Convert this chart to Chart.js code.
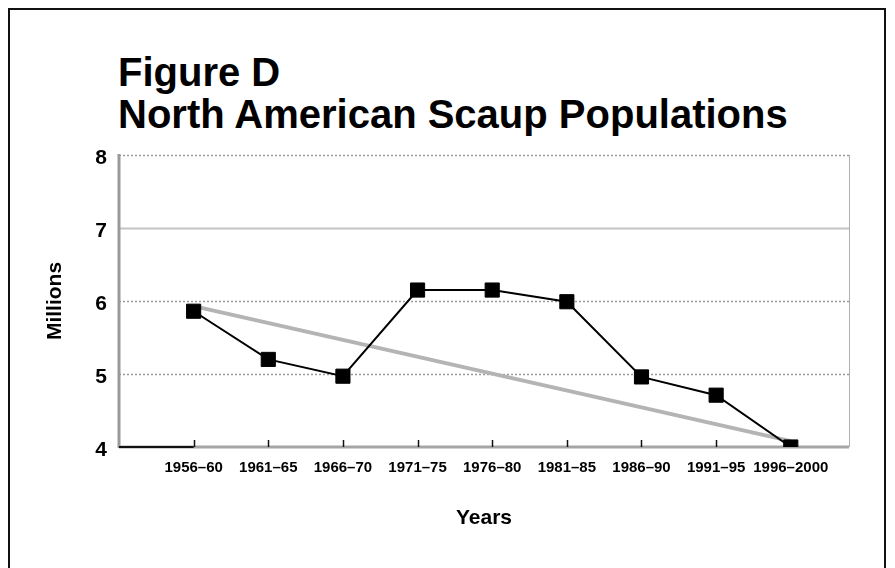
<!DOCTYPE html>
<html>
<head>
<meta charset="utf-8">
<script src="https://cdn.jsdelivr.net/npm/chart.js@4/dist/chart.umd.min.js"></script>
<style>
  html, body { margin: 0; padding: 0; background: #fff; }
  #wrap { position: relative; width: 895px; height: 568px; overflow: hidden; }
  #frame { position: absolute; left: 8px; top: 8px; width: 878px; height: 600px;
           border: 2px solid #111; box-sizing: border-box; }
  #title { position: absolute; left: 118px; top: 51px; font-family: "Liberation Sans", Arial, sans-serif;
           font-weight: bold; font-size: 40px; line-height: 42px; color: #000; }
  canvas { position: absolute; left: 0; top: 0; }
</style>
</head>
<body>
<div id="wrap">
  <div id="frame"></div>
  <div id="title">Figure D<br>North American Scaup Populations</div>
  <canvas id="c" width="895" height="568"></canvas>
</div>
<script>
const categories = ["1956–60", "1961–65", "1966–70", "1971–75", "1976–80", "1981–85", "1986–90", "1991–95", "1996–2000"];
const populationMillions = [5.86, 5.20, 4.97, 6.15, 6.15, 5.99, 4.96, 4.71, 4.00];
const trendStartEnd = [5.93, 4.08];
const yTicks = [4, 5, 6, 7, 8];

const FONT = '"Liberation Sans", Arial, sans-serif';
const NARROW = '"Liberation Sans Narrow", "Liberation Sans", Arial, sans-serif';

const mainPoints = populationMillions.map((v, i) => ({ x: i, y: v }));
const trendPoints = [{ x: 0, y: trendStartEnd[0] }, { x: categories.length - 1, y: trendStartEnd[1] }];

const framePlugin = {
  id: 'framePlugin',
  beforeDatasetsDraw(chart) {
    const { ctx, chartArea: a, scales: { x, y } } = chart;
    ctx.save();
    yTicks.forEach(v => {
      if (v === 4) return;
      const py = Math.round(y.getPixelForValue(v)) + 0.5;
      ctx.beginPath();
      if (v === 7) { ctx.setLineDash([]); ctx.strokeStyle = '#c4c4c4'; ctx.lineWidth = 2; }
      else { ctx.setLineDash([2, 2]); ctx.strokeStyle = '#9a9a9a'; ctx.lineWidth = 1.5; }
      ctx.moveTo(a.left, py); ctx.lineTo(a.right, py); ctx.stroke();
    });
    ctx.setLineDash([]);
    ctx.strokeStyle = '#b0b0b0'; ctx.lineWidth = 1;
    ctx.beginPath(); ctx.moveTo(a.right + 0.5, a.top); ctx.lineTo(a.right + 0.5, a.bottom); ctx.stroke();
    ctx.strokeStyle = '#9a9a9a'; ctx.lineWidth = 3;
    ctx.beginPath(); ctx.moveTo(a.left, a.top - 1); ctx.lineTo(a.left, a.bottom + 1); ctx.stroke();
    const by = y.getPixelForValue(4);
    ctx.strokeStyle = '#a6a6a6'; ctx.lineWidth = 3;
    ctx.beginPath(); ctx.moveTo(a.left, by); ctx.lineTo(a.right, by); ctx.stroke();
    ctx.strokeStyle = '#111'; ctx.lineWidth = 2;
    ctx.beginPath(); ctx.moveTo(a.left, by); ctx.lineTo(x.getPixelForValue(0), by); ctx.stroke();
    ctx.strokeStyle = '#111'; ctx.lineWidth = 1.5;
    categories.forEach((c, i) => {
      const px = Math.round(x.getPixelForValue(i)) + 0.5;
      ctx.beginPath(); ctx.moveTo(px, by); ctx.lineTo(px, by - 7); ctx.stroke();
    });
    ctx.restore();
  }
};

new Chart(document.getElementById('c'), {
  type: 'line',
  data: {
    datasets: [
      {
        label: 'Trend',
        data: trendPoints,
        borderColor: '#b4b4b4',
        borderWidth: 4,
        pointRadius: 0,
        order: 2
      },
      {
        label: 'Scaup population (millions)',
        data: mainPoints,
        borderColor: '#000',
        borderWidth: 2,
        pointStyle: 'rect',
        pointRadius: 10,
        pointBackgroundColor: '#000',
        pointBorderColor: '#000',
        pointBorderWidth: 1,
        order: 1
      }
    ]
  },
  options: {
    responsive: false,
    animation: false,
    events: [],
    layout: { padding: { top: 155, right: 46, left: 12, bottom: 0 } },
    plugins: { legend: { display: false }, title: { display: false }, tooltip: { enabled: false } },
    scales: {
      x: {
        type: 'linear',
        min: -1,
        max: 8.78,
        grid: { display: false, drawTicks: false },
        border: { display: false },
        afterBuildTicks: (s) => { s.ticks = categories.map((c, i) => ({ value: i })); },
        afterFit: (s) => { s.height = 568 - 447; },
        ticks: {
          autoSkip: false,
          maxRotation: 0,
          padding: 12,
          color: '#000',
          font: { family: NARROW, weight: 'bold', size: 15 },
          callback: (v) => categories[v] ?? ''
        },
        title: {
          display: true,
          text: 'Years',
          color: '#000',
          font: { family: FONT, weight: 'bold', size: 21 },
          padding: { top: 0, bottom: 37 }
        }
      },
      y: {
        min: 4,
        max: 8,
        grid: { display: false, drawTicks: false },
        border: { display: false },
        afterBuildTicks: (s) => { s.ticks = yTicks.map(v => ({ value: v })); },
        afterFit: (s) => { s.width = 119 - 12; },
        ticks: {
          padding: 12,
          labelOffset: 3,
          color: '#000',
          font: { family: FONT, weight: 'bold', size: 21 },
          callback: (v) => String(v)
        },
        title: {
          display: true,
          text: 'Millions',
          color: '#000',
          font: { family: FONT, weight: 'bold', size: 21 },
          padding: { top: 31, bottom: 0 }
        }
      }
    }
  },
  plugins: [framePlugin]
});
</script>
</body>
</html>
